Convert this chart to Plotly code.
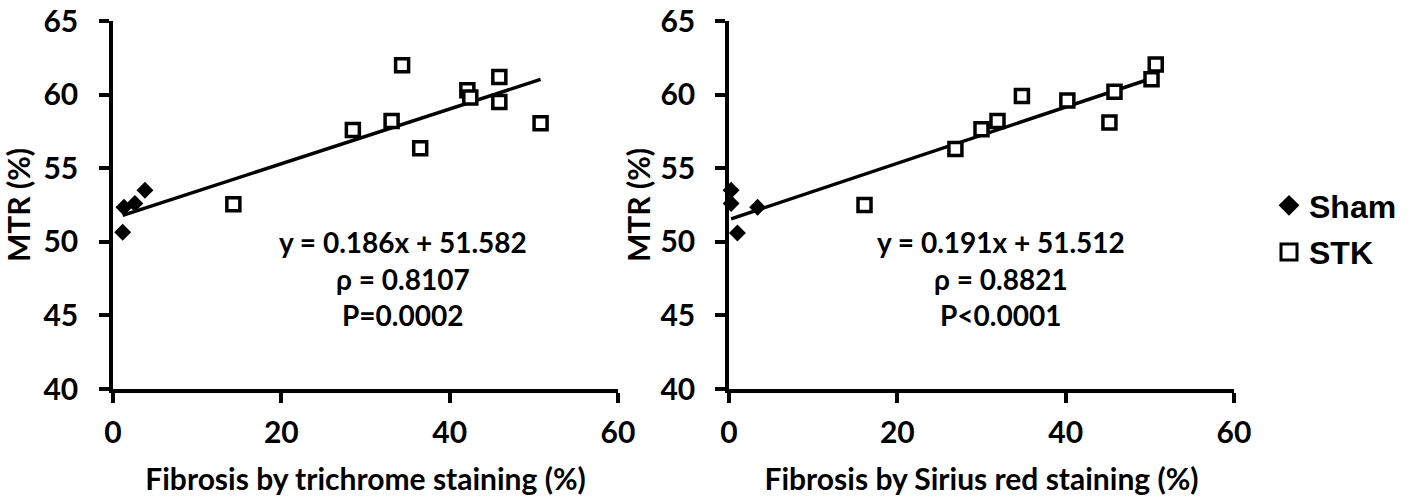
import plotly.graph_objects as go
from plotly.subplots import make_subplots

# Fibrosis (%) and MTR (%) per animal
sham_trichrome = [1.15, 1.3, 2.6, 3.8]
sham_mtr_trichrome = [50.65, 52.35, 52.6, 53.5]
stk_trichrome = [14.3, 28.5, 33.1, 34.35, 36.5, 42.1, 42.45, 45.9, 45.9, 50.8]
stk_mtr_trichrome = [52.55, 57.6, 58.2, 62.0, 56.35, 60.3, 59.8, 61.2, 59.5, 58.05]

sham_sirius = [0.25, 0.25, 1.0, 3.4]
sham_mtr_sirius = [53.5, 52.6, 50.6, 52.35]
stk_sirius = [16.1, 26.9, 30.0, 31.9, 34.8, 40.2, 45.2, 45.8, 50.2, 50.7]
stk_mtr_sirius = [52.5, 56.3, 57.65, 58.2, 59.9, 59.6, 58.1, 60.2, 61.05, 62.05]

# Linear fits and correlation statistics
fit_trichrome = (0.186, 51.582)
fit_sirius = (0.191, 51.512)
stats_trichrome = ["y = 0.186x + 51.582", "ρ = 0.8107", "P=0.0002"]
stats_sirius = ["y = 0.191x + 51.512", "ρ = 0.8821", "P<0.0001"]

x_titles = ["Fibrosis by trichrome staining (%)", "Fibrosis by Sirius red staining (%)"]
y_title = "MTR (%)"

W, H = 1408, 497
FONT = "Lato"
TXT = dict(family=FONT, color="black", weight="bold")

fig = make_subplots(rows=1, cols=2)

panels = [
    (sham_trichrome, sham_mtr_trichrome, stk_trichrome, stk_mtr_trichrome, fit_trichrome, stats_trichrome, 34.4),
    (sham_sirius, sham_mtr_sirius, stk_sirius, stk_mtr_sirius, fit_sirius, stats_sirius, 32.3),
]

diamond = dict(symbol="diamond", size=13, color="black", line=dict(color="black", width=0))
square = dict(symbol="square", size=13, color="white", line=dict(color="black", width=3.5))

for i, (sx, sy, kx, ky, fit, stats, text_x) in enumerate(panels, start=1):
    all_x = sx + kx
    lo, hi = min(all_x), max(all_x)
    slope, icpt = fit
    fig.add_trace(go.Scatter(
        x=[lo, hi], y=[slope * lo + icpt, slope * hi + icpt],
        mode="lines", line=dict(color="black", width=3.5),
        showlegend=False, hoverinfo="skip"), row=1, col=i)
    fig.add_trace(go.Scatter(
        x=sx, y=sy, mode="markers", name="Sham", legendgroup="sham",
        showlegend=False, cliponaxis=False, marker=diamond), row=1, col=i)
    fig.add_trace(go.Scatter(
        x=kx, y=ky, mode="markers", name="STK", legendgroup="stk",
        showlegend=False, cliponaxis=False, marker=square), row=1, col=i)
    ax = "" if i == 1 else str(i)
    for line_text, yv in zip(stats, [50.0, 47.5, 45.0]):
        fig.add_annotation(x=text_x, y=yv, xref=f"x{ax}", yref=f"y{ax}",
                           text=line_text, showarrow=False, font=dict(size=28, **TXT))

# Legend entries with enlarged symbols
fig.add_trace(go.Scatter(x=[None], y=[None], mode="markers", name="Sham", legendgroup="sham",
                         marker=dict(diamond, size=16)))
fig.add_trace(go.Scatter(x=[None], y=[None], mode="markers", name="STK", legendgroup="stk",
                         marker=dict(square, size=16, line=dict(color="black", width=3))))

axis_common = dict(showline=True, linecolor="black", linewidth=3.5, ticks="outside",
                   tickcolor="black", tickwidth=3.5, ticklen=10, showgrid=False, zeroline=False,
                   automargin=False, tickfont=dict(size=30, **TXT))

y_dom = [1 - 389 / H, 1 - 21 / H]
x_doms = [[113 / W, 618 / W], [729 / W, 1234 / W]]
y_label_standoff = [15, 14]
y_title_standoff = [6, 2]

for i in (1, 2):
    fig.update_xaxes(range=[0, 60], tickvals=[0, 20, 40, 60], domain=x_doms[i - 1],
                     ticklabelstandoff=4,
                     title=dict(text=x_titles[i - 1], standoff=22, font=dict(size=30, **TXT)),
                     row=1, col=i, **axis_common)
    fig.update_yaxes(range=[40, 65], tickvals=[40, 45, 50, 55, 60, 65], domain=y_dom,
                     ticklabelstandoff=y_label_standoff[i - 1],
                     title=dict(text=y_title, standoff=y_title_standoff[i - 1],
                                font=dict(size=30, **TXT)),
                     row=1, col=i, **axis_common)

fig.update_layout(
    width=W, height=H,
    margin=dict(l=0, r=0, t=0, b=0, autoexpand=False),
    paper_bgcolor="white", plot_bgcolor="white",
    font=TXT,
    legend=dict(x=1269 / W, y=1 - 178 / H, xanchor="left", yanchor="top",
                traceorder="grouped", tracegroupgap=2,
                font=dict(family="Liberation Sans", size=32, color="black", weight="bold"),
                bgcolor="rgba(0,0,0,0)"),
)

fig.write_html("out.html")
